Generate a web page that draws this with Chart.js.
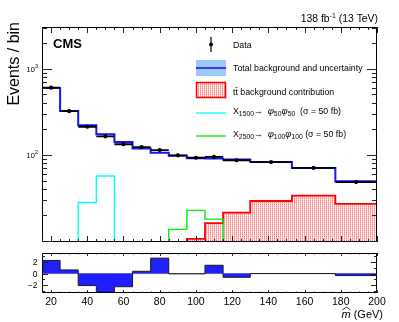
<!DOCTYPE html>
<html>
<head>
<meta charset="utf-8">
<script src="https://cdn.jsdelivr.net/npm/chart.js@4.4.1/dist/chart.umd.min.js"></script>
<style>
  html, body { margin: 0; padding: 0; background: #fff; }
  #wrap { position: relative; width: 399px; height: 322px; overflow: hidden; }
  canvas { position: absolute; left: 0; }
  #mainCanvas { top: 0; }
  #ratioCanvas { top: 240px; }
</style>
</head>
<body>
<div id="wrap">
  <canvas id="mainCanvas" width="399" height="250"></canvas>
  <canvas id="ratioCanvas" width="399" height="82"></canvas>
</div>
<script>
// bin edges in GeV (variable width at the high end)
const binEdges = [15, 25, 35, 45, 55, 65, 75, 85, 95, 105, 115, 130, 153, 177, 200];

// events per bin
const dataCounts = [600, 320, 211, 163, 132, 122, 113, 98, 92, 94, 86, 82, 70, 48];
const totalBkg   = [595, 321, 219, 172, 140, 118, 105, 97, 91, 90, 87.5, 82, 70, 49];
const ttbarBkg   = [0, 0, 0, 0, 0, 0, 0, 0, 10.5, 16, 21.2, 28.9, 33.4, 26.7];
const sig1500    = [0, 0, 27.7, 56.4, 0, 0, 0, 0, 0, 0, 0, 0, 0, 0];
const sig2500    = [0, 0, 0, 0, 0, 0, 0, 13.5, 22.5, 17.8, 0, 0, 0, 0];

// (data - bkg) / sigma_data
const pulls = [2.3, 0.64, -2.1, -3.25, -2.3, 0.4, 2.7, -0.05, -0.05, 1.45, -0.65, 0, 0, -0.35];

// axis ticks
const xTickValues = [20, 40, 60, 80, 100, 120, 140, 160, 180, 200];
const yTickMain = [100, 1000];
const yTickMainExp = ['2', '3'];
const yTickPull = [-2, 0, 2];

const X_MIN = 15, X_MAX = 200;
const Y_MIN = 9.64, Y_MAX = 3046;
const P_MIN = -3.4, P_MAX = 3.6;
const FONT = '"Liberation Sans", Arial, Helvetica, sans-serif';

/**
 * Build step points for a histogram (value held from each left edge)
 */
function histPoints(values, floor) {
    const pts = values.map((v, i) => ({ x: binEdges[i], y: floor !== undefined ? Math.max(v, floor) : v }));
    pts.push({ x: binEdges[binEdges.length - 1], y: pts[pts.length - 1].y });
    return pts;
}

// data shown as horizontal bars across each bin, no vertical joins
function dataSegments(values) {
    const pts = [];
    values.forEach((v, i) => {
        pts.push({ x: binEdges[i], y: v });
        pts.push({ x: binEdges[i + 1], y: v });
        pts.push({ x: binEdges[i + 1], y: null });
    });
    return pts;
}

function dataCentres(values) {
    return values.map((v, i) => ({ x: (binEdges[i] + binEdges[i + 1]) / 2, y: v }));
}

// red dotted hatch like ROOT fill style
function makeHatch() {
    const c = document.createElement('canvas');
    c.width = 2; c.height = 2;
    const g = c.getContext('2d');
    g.fillStyle = '#feeaea';
    g.fillRect(0, 0, 2, 2);
    g.fillStyle = '#f6b4b4';
    g.fillRect(0, 0, 1, 2);
    g.fillStyle = '#f08c8c';
    g.fillRect(0, 0, 1, 1);
    return g.createPattern(c, 'repeat');
}

/**
 * Draw text made of parts with different sizes / offsets
 */
function drawRich(ctx, x, y, parts, align) {
    ctx.textAlign = 'left';
    ctx.textBaseline = 'alphabetic';
    let total = 0;
    parts.forEach(p => {
        ctx.font = (p.style || '') + ' ' + p.size + 'px ' + FONT;
        p.w = ctx.measureText(p.t).width;
        total += p.w;
    });
    let cx = x;
    if (align === 'right') cx = x - total;
    if (align === 'center') cx = x - total / 2;
    parts.forEach(p => {
        ctx.font = (p.style || '') + ' ' + p.size + 'px ' + FONT;
        ctx.fillText(p.t, cx, y + (p.dy || 0));
        cx += p.w;
    });
}

function drawFrame(ctx, a) {
    ctx.strokeStyle = '#000';
    ctx.lineWidth = 1;
    ctx.strokeRect(a.left + 0.5, a.top + 0.5, a.right - a.left - 1, a.bottom - a.top - 1);
}

function drawXTicks(ctx, a, xs, majorLen, minorLen) {
    ctx.strokeStyle = '#222';
    ctx.lineWidth = 1;
    for (let v = X_MIN; v <= X_MAX; v += 5) {
        const px = Math.round(xs.getPixelForValue(v)) + 0.5;
        const len = v % 20 === 0 ? majorLen : minorLen;
        ctx.beginPath();
        ctx.moveTo(px, a.bottom);
        ctx.lineTo(px, a.bottom - len);
        ctx.moveTo(px, a.top);
        ctx.lineTo(px, a.top + len);
        ctx.stroke();
    }
}

function drawYTick(ctx, a, py, len) {
    py = Math.round(py) + 0.5;
    ctx.beginPath();
    ctx.moveTo(a.left, py);
    ctx.lineTo(a.left + len, py);
    ctx.moveTo(a.right, py);
    ctx.lineTo(a.right - len, py);
    ctx.stroke();
}

const hatch = makeHatch();

const mainDecor = {
    id: 'mainDecor',
    afterDraw(chart) {
        const ctx = chart.ctx, a = chart.chartArea;
        const xs = chart.scales.x, ys = chart.scales.y;
        ctx.save();
        drawFrame(ctx, a);
        drawXTicks(ctx, a, xs, 6, 3);

        // log ticks
        ctx.strokeStyle = '#222';
        for (let d = 0; d <= 3; d++) {
            for (let k = 1; k <= 9; k++) {
                const v = k * Math.pow(10, d);
                if (v < Y_MIN || v > Y_MAX) continue;
                drawYTick(ctx, a, ys.getPixelForValue(v), k === 1 ? 10 : 5);
            }
        }
        ctx.fillStyle = '#000';
        yTickMain.forEach((v, i) => {
            const py = ys.getPixelForValue(v);
            drawRich(ctx, 38, py + 3, [
                { t: '10', size: 7.5 },
                { t: yTickMainExp[i], size: 5.5, dy: -3.5 }
            ], 'right');
        });

        // y title
        ctx.save();
        ctx.translate(15, 22);
        ctx.rotate(-Math.PI / 2);
        ctx.font = '16px ' + FONT;
        ctx.textAlign = 'right';
        ctx.textBaseline = 'middle';
        ctx.fillText('Events / bin', 0, 0);
        ctx.restore();

        // CMS label and lumi
        drawRich(ctx, 53, 48, [{ t: 'CMS', size: 13, style: 'bold' }], 'left');
        drawRich(ctx, 378, 22, [
            { t: '138 fb', size: 10.4 },
            { t: '-1', size: 7, dy: -4 },
            { t: ' (13 TeV)', size: 10.4 }
        ], 'right');

        // legend
        const lx0 = 196, lx1 = 226, tx = 233, fs = 8.8;
        // data marker
        ctx.strokeStyle = '#000';
        ctx.lineWidth = 1.2;
        ctx.beginPath();
        ctx.moveTo(211, 37);
        ctx.lineTo(211, 52);
        ctx.stroke();
        ctx.beginPath();
        ctx.arc(211, 44.5, 2, 0, Math.PI * 2);
        ctx.fill();
        drawRich(ctx, tx, 47.5, [{ t: 'Data', size: fs }], 'left');

        // total bkg box
        ctx.fillStyle = '#9cc9f5';
        ctx.fillRect(lx0, 60, lx1 - lx0, 16);
        ctx.strokeStyle = '#1010e8';
        ctx.lineWidth = 1.5;
        ctx.beginPath();
        ctx.moveTo(lx0, 68);
        ctx.lineTo(lx1, 68);
        ctx.stroke();
        ctx.fillStyle = '#000';
        drawRich(ctx, tx, 70.5, [{ t: 'Total background and uncertainty', size: fs }], 'left');

        // ttbar box
        ctx.fillStyle = hatch;
        ctx.fillRect(lx0, 82, lx1 - lx0, 16);
        ctx.strokeStyle = '#ff0000';
        ctx.lineWidth = 1.5;
        ctx.strokeRect(lx0 + 0.5, 82.5, lx1 - lx0 - 1, 15);
        ctx.fillStyle = '#000';
        drawRich(ctx, tx, 94.5, [{ t: 't', size: fs }, { t: 't\u0304', size: fs }, { t: ' background contribution', size: fs }], 'left');

        // signal lines
        ctx.lineWidth = 1.3;
        ctx.strokeStyle = '#00ffff';
        ctx.beginPath();
        ctx.moveTo(lx0, 113);
        ctx.lineTo(lx1, 113);
        ctx.stroke();
        ctx.strokeStyle = '#00ee00';
        ctx.beginPath();
        ctx.moveTo(lx0, 136);
        ctx.lineTo(lx1, 136);
        ctx.stroke();
        ctx.fillStyle = '#000';
        const sub = 6.8;
        drawRich(ctx, tx, 113.5, [
            { t: 'X', size: fs }, { t: '1500', size: sub, dy: 2.2 },
            { t: '\u2192  ', size: fs },
            { t: '\u03c6', size: 9.5, style: 'italic' }, { t: '50', size: sub, dy: 2.2 },
            { t: '\u03c6', size: 9.5, style: 'italic' }, { t: '50', size: sub, dy: 2.2 },
            { t: '  (\u03c3 = 50 fb)', size: fs }
        ], 'left');
        drawRich(ctx, tx, 136.5, [
            { t: 'X', size: fs }, { t: '2500', size: sub, dy: 2.2 },
            { t: '\u2192  ', size: fs },
            { t: '\u03c6', size: 9.5, style: 'italic' }, { t: '100', size: sub, dy: 2.2 },
            { t: '\u03c6', size: 9.5, style: 'italic' }, { t: '100', size: sub, dy: 2.2 },
            { t: ' (\u03c3 = 50 fb)', size: fs }
        ], 'left');
        ctx.restore();
    }
};

const ratioDecor = {
    id: 'ratioDecor',
    afterDraw(chart) {
        const ctx = chart.ctx, a = chart.chartArea;
        const xs = chart.scales.x, ys = chart.scales.y;
        ctx.save();
        drawFrame(ctx, a);
        drawXTicks(ctx, a, xs, 3, 1.5);
        ctx.strokeStyle = '#222';
        ctx.lineWidth = 1;
        for (let v = -3; v <= 3; v++) {
            drawYTick(ctx, a, ys.getPixelForValue(v), v % 2 === 0 ? 6 : 3);
        }
        ctx.fillStyle = '#000';
        yTickPull.forEach(v => {
            const label = v < 0 ? '\u2212' + Math.abs(v) : String(v);
            drawRich(ctx, 37.5, ys.getPixelForValue(v) + 3, [{ t: label, size: 8.5 }], 'right');
        });
        xTickValues.forEach(v => {
            drawRich(ctx, xs.getPixelForValue(v), a.bottom + 12, [{ t: String(v), size: 10.5 }], 'center');
        });

        // x title with wide hat over m
        const by = a.bottom + 25;
        ctx.font = 'italic 11px ' + FONT;
        const mw = ctx.measureText('m').width;
        ctx.font = '11px ' + FONT;
        const gw = ctx.measureText(' (GeV)').width;
        const mx = 383 - gw - mw;
        drawRich(ctx, mx, by, [{ t: 'm', size: 11, style: 'italic' }, { t: ' (GeV)', size: 11 }], 'left');
        ctx.strokeStyle = '#000';
        ctx.lineWidth = 0.8;
        ctx.beginPath();
        ctx.moveTo(mx + 1, by - 8);
        ctx.lineTo(mx + mw / 2 + 0.5, by - 11);
        ctx.lineTo(mx + mw, by - 8);
        ctx.stroke();

        // y title as fraction
        const cy = 272;
        ctx.save();
        ctx.translate(6, cy);
        ctx.rotate(-Math.PI / 2);
        ctx.font = '12px ' + FONT;
        ctx.textAlign = 'center';
        ctx.textBaseline = 'middle';
        ctx.fillText('Data - bkg', 0, 0);
        ctx.restore();
        ctx.strokeStyle = '#000';
        ctx.lineWidth = 1;
        ctx.beginPath();
        ctx.moveTo(12.5, 245);
        ctx.lineTo(12.5, 302);
        ctx.stroke();
        ctx.save();
        ctx.translate(21, cy);
        ctx.rotate(-Math.PI / 2);
        drawRich(ctx, 0, 3, [{ t: '\u03c3', size: 10 }, { t: 'data', size: 7, dy: 2.5 }], 'center');
        ctx.restore();
        ctx.restore();
    }
};

const lineDefaults = { pointRadius: 0, tension: 0, fill: false, spanGaps: false };

const mainChart = new Chart(document.getElementById('mainCanvas'), {
    type: 'line',
    data: {
        datasets: [
            Object.assign({}, lineDefaults, {
                label: 'Data points', data: dataCentres(dataCounts), showLine: false,
                pointRadius: 2.1, pointBackgroundColor: '#000', pointBorderWidth: 0, order: 0
            }),
            Object.assign({}, lineDefaults, {
                label: 'Data', data: dataSegments(dataCounts), borderColor: '#000', borderWidth: 1.8, order: 1
            }),
            Object.assign({}, lineDefaults, {
                label: 'Total background', data: histPoints(totalBkg), stepped: 'before',
                borderColor: '#1414ff', borderWidth: 2, order: 2
            }),
            Object.assign({}, lineDefaults, {
                label: 'X2500', data: histPoints(sig2500, 1), stepped: 'before',
                borderColor: '#00ee00', borderWidth: 1.4, order: 3
            }),
            Object.assign({}, lineDefaults, {
                label: 'X1500', data: histPoints(sig1500, 1), stepped: 'before',
                borderColor: '#00ffff', borderWidth: 1.4, order: 4
            }),
            Object.assign({}, lineDefaults, {
                label: 'ttbar', data: histPoints(ttbarBkg, 1), stepped: 'before',
                borderColor: '#ff0000', borderWidth: 1.8, fill: 'start', backgroundColor: hatch, order: 5
            })
        ]
    },
    options: {
        responsive: false,
        animation: false,
        events: [],
        layout: { padding: { left: 42, right: 22, top: 27, bottom: 8 } },
        plugins: { legend: { display: false }, tooltip: { enabled: false } },
        scales: {
            x: { type: 'linear', min: X_MIN, max: X_MAX, display: false },
            y: { type: 'logarithmic', min: Y_MIN, max: Y_MAX, display: false }
        }
    },
    plugins: [mainDecor]
});

const ratioChart = new Chart(document.getElementById('ratioCanvas'), {
    type: 'line',
    data: {
        datasets: [
            Object.assign({}, lineDefaults, {
                label: 'pull', data: histPoints(pulls), stepped: 'before',
                borderColor: '#1a1a1a', borderWidth: 1, fill: { value: 0 }, backgroundColor: '#1f1fff', order: 0
            }),
            Object.assign({}, lineDefaults, {
                label: 'zero', data: [{ x: X_MIN, y: 0 }, { x: X_MAX, y: 0 }],
                borderColor: '#999', borderWidth: 1, order: 1
            })
        ]
    },
    options: {
        responsive: false,
        animation: false,
        events: [],
        layout: { padding: { left: 42, right: 22, top: 13, bottom: 29 } },
        plugins: { legend: { display: false }, tooltip: { enabled: false } },
        scales: {
            x: { type: 'linear', min: X_MIN, max: X_MAX, display: false },
            y: { type: 'linear', min: P_MIN, max: P_MAX, display: false }
        }
    },
    plugins: [ratioDecor]
});
</script>
</body>
</html>
